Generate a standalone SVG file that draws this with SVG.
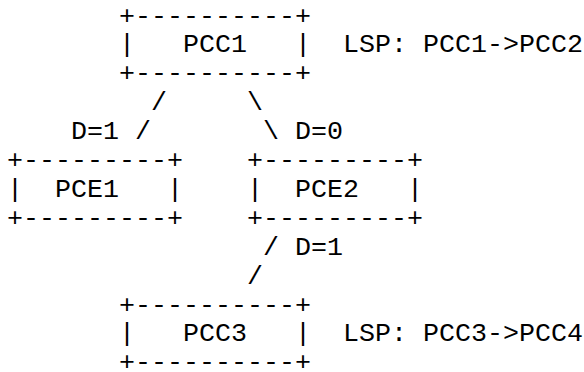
<svg xmlns="http://www.w3.org/2000/svg" width="584" height="372" viewBox="0 0 584 372">
<style>
text{font-family:"Liberation Mono","Courier New",monospace;font-size:26.66px;fill:#000;white-space:pre}
</style>
<rect width="584" height="372" fill="#fff"/>
<g id="PCC1">
<text x="119" y="23.5">+----------+</text>
<text x="119" y="52.4">|   PCC1   |</text>
<text x="119" y="81.3">+----------+</text>
<text x="343" y="52.4">LSP: PCC1-&gt;PCC2</text>
</g>
<g id="PCE1">
<text x="7" y="168">+---------+</text>
<text x="7" y="196.9">|  PCE1   |</text>
<text x="7" y="225.8">+---------+</text>
</g>
<g id="PCE2">
<text x="247" y="168">+---------+</text>
<text x="247" y="196.9">|  PCE2   |</text>
<text x="247" y="225.8">+---------+</text>
</g>
<g id="PCC3">
<text x="119" y="312.5">+----------+</text>
<text x="119" y="341.4">|   PCC3   |</text>
<text x="119" y="370.3">+----------+</text>
<text x="343" y="341.4">LSP: PCC3-&gt;PCC4</text>
</g>
<g id="connectors">
<text x="151" y="110.2">/</text>
<text x="247" y="110.2">\</text>
<text x="71" y="139.1">D=1</text>
<text x="135" y="139.1">/</text>
<text x="263" y="139.1">\</text>
<text x="295" y="139.1">D=0</text>
<text x="263" y="254.7">/</text>
<text x="295" y="254.7">D=1</text>
<text x="247" y="283.6">/</text>
</g>
</svg>
